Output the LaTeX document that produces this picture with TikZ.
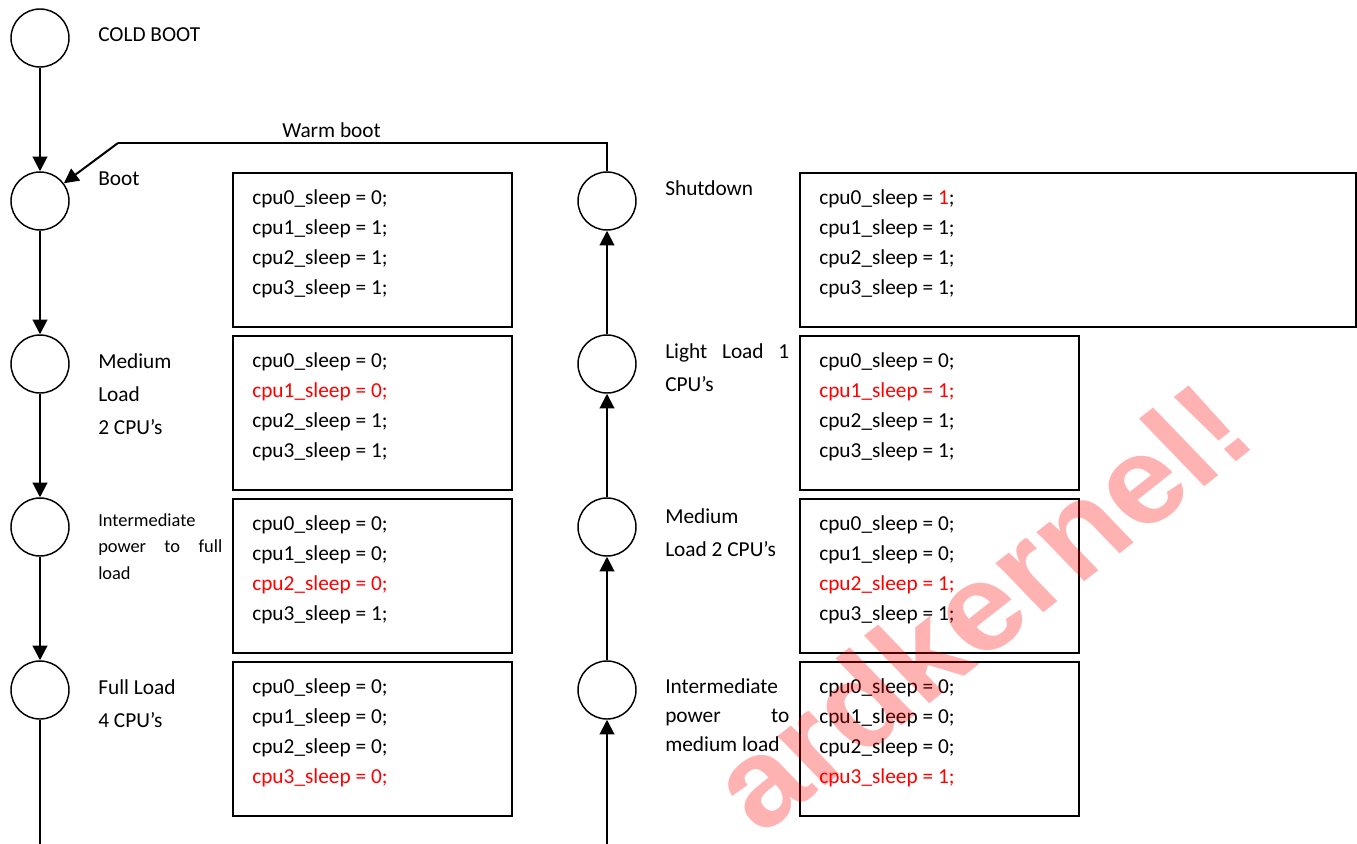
\documentclass[tikz,border=0pt]{standalone}
\usepackage{fontspec}
\setmainfont{Carlito}
\newfontfamily\wmfont{Liberation Sans}
\usetikzlibrary{arrows.meta}

% four register lines of a state, 22.5pt apart
\newcommand\regs[4]{\vtop{\baselineskip=22.5pt\hbox{#1}\hbox{#2}\hbox{#3}\hbox{#4}}}
% stacked label lines with a given line distance
\newcommand\lines[2]{\vtop{\baselineskip=#1\relax #2}}
\newcommand\redtxt[1]{\textcolor{red}{#1}}

\begin{document}
\begin{tikzpicture}[x=0.75pt,y=-0.75pt,
  state/.style={circle, draw, line width=1.1pt, minimum size=43.5pt, inner sep=0pt},
  flow/.style={line width=1.5pt, -{Triangle[length=11pt,width=11pt]}},
  wline/.style={line width=1pt},
  regbox/.style={draw, rectangle, line width=1.4pt, anchor=north west, inner sep=0pt,
                 minimum width=209.25pt, minimum height=115.5pt},
  regtext/.style={anchor=base west, inner sep=0pt, font=\fontsize{16}{19}\selectfont},
  lbl/.style={anchor=base west, inner sep=0pt, font=\fontsize{16}{19}\selectfont},
  small/.style={anchor=base west, inner sep=0pt, font=\fontsize{13.8}{16}\selectfont},
  wm/.style={inner sep=0pt, text=red, text opacity=0.3, transform shape,
             font=\wmfont\bfseries\fontsize{93}{100}\selectfont}
]
\useasboundingbox (0,0) rectangle (1357,843);

% ---- power-up column ----
\node[state] (c0) at (40,38) {};
\node[state] (c1) at (40,201) {};
\node[state] (c2) at (40,364) {};
\node[state] (c3) at (40,527) {};
\node[state] (c4) at (40,690) {};
\coordinate (cend) at (40,846);

\draw[flow] (c0) -- (c1);
\draw[flow] (c1) -- (c2);
\draw[flow] (c2) -- (c3);
\draw[flow] (c3) -- (c4);
\draw[line width=1.5pt] (c4) -- (cend);

\node[lbl] (l0) at (98,41) {COLD BOOT};
\node[lbl] (l1) at (98,185) {Boot};
\node[lbl] (l2) at (98,368) {\lines{25.1pt}{\hbox{Medium}\hbox{Load}\hbox{2 CPU’s}}};
\node[small] (l3) at (98,526) {\lines{19.9pt}{\hbox{Intermediate}\hbox to 93pt{power\hfill to\hfill full}\hbox{load}}};
\node[lbl] (l4) at (98,694) {\lines{25.1pt}{\hbox{Full Load}\hbox{4 CPU’s}}};

\node[regbox] (b1) at (232,172) {};
\node[regbox] (b2) at (232,335) {};
\node[regbox] (b3) at (232,498) {};
\node[regbox] (b4) at (232,661) {};

\node[regtext] (t1) at (252,204) {\regs{cpu0\_sleep = 0;}{cpu1\_sleep = 1;}{cpu2\_sleep = 1;}{cpu3\_sleep = 1;}};
\node[regtext] (t2) at (252,367) {\regs{cpu0\_sleep = 0;}{\redtxt{cpu1\_sleep = 0;}}{cpu2\_sleep = 1;}{cpu3\_sleep = 1;}};
\node[regtext] (t3) at (252,530) {\regs{cpu0\_sleep = 0;}{cpu1\_sleep = 0;}{\redtxt{cpu2\_sleep = 0;}}{cpu3\_sleep = 1;}};
\node[regtext] (t4) at (252,693) {\regs{cpu0\_sleep = 0;}{cpu1\_sleep = 0;}{cpu2\_sleep = 0;}{\redtxt{cpu3\_sleep = 0;}}};

% ---- power-down column ----
\node[state] (r1) at (607,201) {};
\node[state] (r2) at (607,364) {};
\node[state] (r3) at (607,527) {};
\node[state] (r4) at (607,690) {};
\coordinate (rstart) at (607,846);

\draw[flow] (rstart) -- (r4);
\draw[flow] (r4) -- (r3);
\draw[flow] (r3) -- (r2);
\draw[flow] (r2) -- (r1);

\node[lbl] (m1) at (665,195) {Shutdown};
\node[lbl] (m2) at (665,358) {\lines{25.1pt}{\hbox to 93pt{Light\hfill Load\hfill 1}\hbox{CPU’s}}};
\node[lbl] (m3) at (665,523) {\lines{24.8pt}{\hbox{Medium}\hbox{Load 2 CPU’s}}};
\node[lbl] (m4) at (665,693) {\lines{22.1pt}{\hbox{Intermediate}\hbox to 93pt{power\hfill to}\hbox{medium load}}};

\node[regbox, minimum width=417pt] (s1) at (799,172) {};
\node[regbox] (s2) at (799,335) {};
\node[regbox] (s3) at (799,498) {};
\node[regbox] (s4) at (799,661) {};

\node[regtext] (u1) at (819,204) {\regs{cpu0\_sleep = \redtxt{1};}{cpu1\_sleep = 1;}{cpu2\_sleep = 1;}{cpu3\_sleep = 1;}};
\node[regtext] (u2) at (819,367) {\regs{cpu0\_sleep = 0;}{\redtxt{cpu1\_sleep = 1;}}{cpu2\_sleep = 1;}{cpu3\_sleep = 1;}};
\node[regtext] (u3) at (819,530) {\regs{cpu0\_sleep = 0;}{cpu1\_sleep = 0;}{\redtxt{cpu2\_sleep = 1;}}{cpu3\_sleep = 1;}};
\node[regtext] (u4) at (819,693) {\regs{cpu0\_sleep = 0;}{cpu1\_sleep = 0;}{cpu2\_sleep = 0;}{\redtxt{cpu3\_sleep = 1;}}};

% ---- warm boot return path ----
\coordinate (wbR) at (607,143);
\coordinate (wbL) at (118,143);
\draw[wline] (r1.north) -- (wbR) -- (wbL);
\draw[flow] (wbL) -- (c1);
\node[lbl] (wlab) at (282,137) {Warm boot};

% ---- watermark (rotated, then widened) ----
\begin{scope}
  \clip (0,0) rectangle (1357,843);
  \begin{scope}[shift={(1261,442)}, xscale=1.105]
    \node[wm, anchor=base east, rotate=41.1] (mark) at (0,0) {ardkernel!};
  \end{scope}
\end{scope}
\end{tikzpicture}
\end{document}
